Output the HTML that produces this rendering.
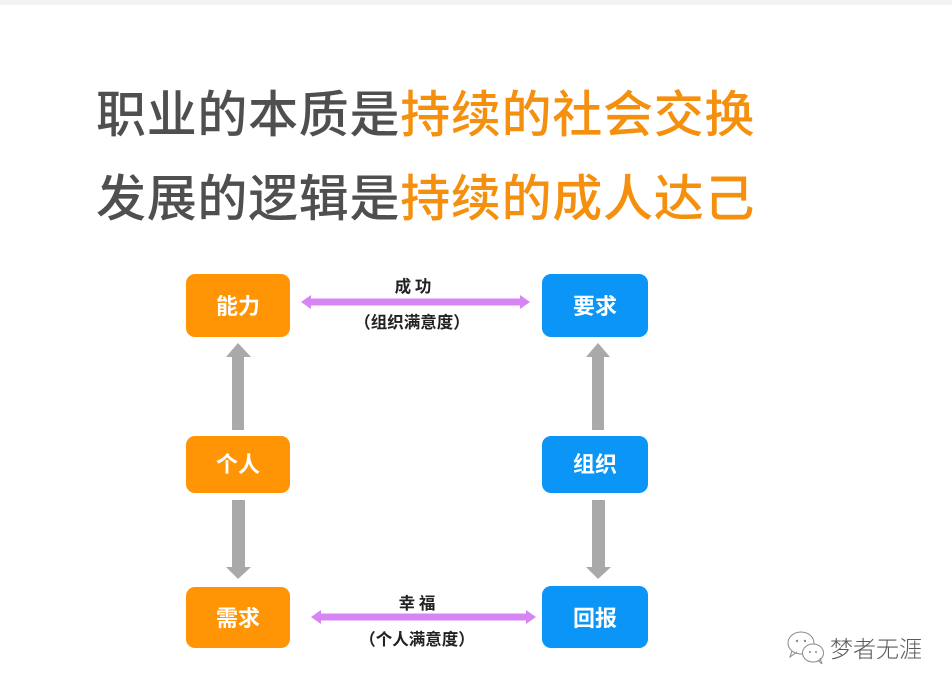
<!DOCTYPE html>
<html><head><meta charset="utf-8"><style>
html,body{margin:0;padding:0;background:#fff;}
body{width:952px;height:689px;overflow:hidden;position:relative;font-family:"Liberation Sans","Noto Sans CJK SC",sans-serif;}
.bar{position:absolute;left:0;top:0;width:952px;height:5px;background:#f3f3f3;}
.t{position:absolute;left:96px;font-size:50px;line-height:56px;font-weight:500;color:#4f4f4f;letter-spacing:0.7px;white-space:nowrap;font-family:"Noto Sans CJK SC",sans-serif;}
.t span{color:#f5900f;}
</style></head><body>
<div class="bar"></div>
<div class="t" style="top:83px;">职业的本质是<span>持续的社会交换</span></div>
<div class="t" style="top:167px;">发展的逻辑是<span>持续的成人达己</span></div>
<svg width="952" height="689" style="position:absolute;left:0;top:0" xmlns="http://www.w3.org/2000/svg">
<g font-family="Noto Sans CJK SC, sans-serif" font-weight="bold">
<!-- boxes -->
<rect x="186" y="274" width="104" height="63" rx="9" fill="#ff9505"/>
<rect x="542" y="274" width="106" height="63" rx="9" fill="#0b95f6"/>
<rect x="186" y="436" width="104" height="57" rx="9" fill="#ff9505"/>
<rect x="542" y="436" width="106" height="57" rx="9" fill="#0b95f6"/>
<rect x="186" y="587" width="104" height="61" rx="9" fill="#ff9505"/>
<rect x="542" y="586" width="106" height="62" rx="9" fill="#0b95f6"/>
<g fill="#fff" font-size="22" text-anchor="middle">
<text x="238" y="314">能力</text>
<text x="595" y="314">要求</text>
<text x="238" y="472">个人</text>
<text x="595" y="472">组织</text>
<text x="238" y="626">需求</text>
<text x="595" y="626">回报</text>
</g>
<!-- gray arrows -->
<g fill="#a9a9a9">
<polygon points="232,430 244,430 244,357 251,357 238,343 226,357 232,357"/>
<polygon points="592,430 604,430 604,357 610,357 598,343 586,357 592,357"/>
<polygon points="232,500 245,500 245,567 251,567 238,579 226,567 232,567"/>
<polygon points="592,500 605,500 605,567 611,567 598,579 586,567 592,567"/>
</g>
<!-- purple arrows -->
<g fill="#d784f4">
<polygon points="301,302 311,295 311,298.5 520,298.5 520,295 530,302 520,309 520,305.5 311,305.5 311,309"/>
<polygon points="311,617 321,610 321,613.5 526,613.5 526,610 536,617 526,624 526,620.5 321,620.5 321,624"/>
</g>
<g fill="#222" font-size="16.5" text-anchor="middle">
<text x="413" y="292">成 功</text>
<text x="412" y="328">（组织满意度）</text>
<text x="417" y="609">幸 福</text>
<text x="417" y="645">（个人满意度）</text>
</g>
</g>
<!-- watermark -->
<g fill="none" stroke="#8a8a8a" stroke-width="1">
<ellipse cx="801" cy="643" rx="13" ry="11"/>
<path d="M792,651 L790,657 L797,652"/>
<ellipse cx="813" cy="653" rx="10.5" ry="9" fill="#fff"/>
<path d="M818,660 L822,664 L820,658"/>
</g>
<g fill="#8a8a8a">
<circle cx="797" cy="641" r="1.2"/><circle cx="805" cy="641" r="1.2"/>
<circle cx="810" cy="652" r="1"/><circle cx="816" cy="652" r="1"/>
</g>
<text x="830" y="657" font-family="Noto Sans CJK SC, sans-serif" font-size="23" font-weight="300" fill="#5a5a5a">梦者无涯</text>
</svg>
</body></html>
